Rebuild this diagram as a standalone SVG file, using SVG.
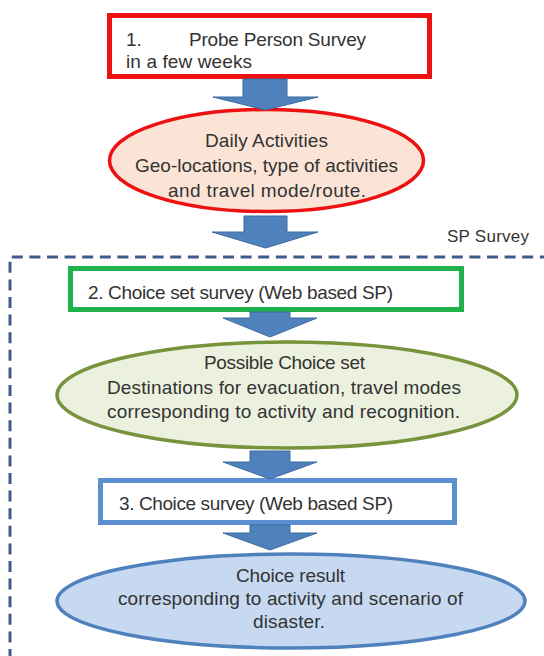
<svg xmlns="http://www.w3.org/2000/svg" width="544" height="656" viewBox="0 0 544 656">
<style>
text{font-family:"Liberation Sans",Arial,sans-serif;font-size:19px;fill:#333333}
.c{text-anchor:middle}
.arrow{fill:#4f81bd;stroke:#3d6b9e;stroke-width:1}
.dash{fill:none;stroke:#3f5b8c;stroke-width:3;stroke-dasharray:11 6.6}
</style>
<rect width="544" height="656" fill="#ffffff"/>
<g id="sp-survey-frame">
<path class="dash" d="M10,660 V257 H550"/>
<text x="447" y="242" textLength="82" style="font-size:17px">SP Survey</text>
</g>
<g id="node1">
<rect x="109.5" y="15.5" width="320" height="61" fill="#ffffff" stroke="#ee1111" stroke-width="5"/>
<text y="46"><tspan x="126">1.</tspan><tspan x="189" textLength="177">Probe Person Survey</tspan></text>
<text x="126" y="68" textLength="126">in a few weeks</text>
</g>
<g id="node2">
<ellipse cx="266.5" cy="160.5" rx="157" ry="51" fill="#fbe4d5" stroke="#ee1111" stroke-width="3.5"/>
<text class="c" x="266.5" y="147" textLength="123">Daily Activities</text>
<text class="c" x="266.5" y="172" textLength="263">Geo-locations, type of activities</text>
<text class="c" x="267" y="197" textLength="198">and travel mode/route.</text>
</g>
<g id="node3">
<rect x="70.5" y="268.5" width="391" height="41" fill="#ffffff" stroke="#1fb14a" stroke-width="5"/>
<text x="88" y="299" textLength="305">2. Choice set survey (Web based SP)</text>
</g>
<g id="node4">
<ellipse cx="287" cy="395" rx="230" ry="53" fill="#ebf1de" stroke="#77933c" stroke-width="3.5"/>
<text class="c" x="284.5" y="369" textLength="161">Possible Choice set</text>
<text class="c" x="284" y="394" textLength="354">Destinations for evacuation, travel modes</text>
<text class="c" x="283.5" y="418" textLength="353">corresponding to activity and recognition.</text>
</g>
<g id="node5">
<rect x="100.5" y="480.5" width="354" height="42" fill="#ffffff" stroke="#5b8fd0" stroke-width="5"/>
<text x="119" y="510" textLength="274">3. Choice survey (Web based SP)</text>
</g>
<g id="node6">
<ellipse cx="291" cy="601" rx="234" ry="47" fill="#c6d9f1" stroke="#4f81bd" stroke-width="3.5"/>
<text class="c" x="290.5" y="582" textLength="109">Choice result</text>
<text class="c" x="290.5" y="605" textLength="345">corresponding to activity and scenario of</text>
<text class="c" x="289" y="628" textLength="72">disaster.</text>
</g>
<g id="connectors">
<polygon class="arrow" points="243,79 287,79 287,97 318,97 265.5,110 213,97 243,97"/>
<polygon class="arrow" points="244,216 287,216 287,232 318,232 265.5,248 212,232 244,232"/>
<polygon class="arrow" points="250,312 290,312 290,318 317,318 270,337 223,318 250,318"/>
<polygon class="arrow" points="250,451 290,451 290,462 317,462 270,479 223,462 250,462"/>
<polygon class="arrow" points="250,525 290,525 290,533 317,533 270,550 223,533 250,533"/>
</g>
</svg>
